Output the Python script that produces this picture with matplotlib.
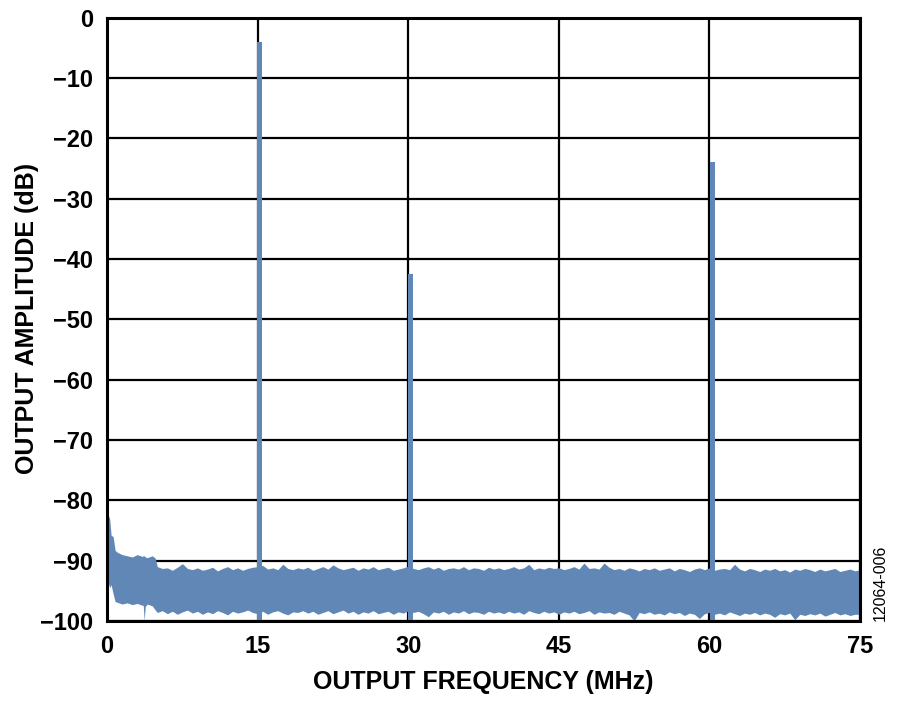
import matplotlib
matplotlib.use("Agg")
import matplotlib.pyplot as plt
import numpy as np

plt.rcParams["font.family"] = ["Liberation Sans", "DejaVu Sans"]

BLUE = "#6087b5"

# noise floor envelope near DC (MHz, dB)
start_freq = [0.05, 0.1, 0.25, 0.4, 0.6, 0.8, 1.0, 1.5, 2.0, 2.5, 3.0, 3.5,
              3.6, 3.7, 3.8, 4.0, 4.5, 4.8]
start_upper = [-82.4, -82.4, -83.0, -85.8, -86.0, -88.3, -88.6, -89.0, -89.2,
               -89.4, -89.0, -89.3, -89.2, -89.2, -89.4, -89.5, -89.2, -89.6]
start_lower = [-92.5, -93.5, -94.5, -94.0, -95.5, -96.8, -96.9, -97.2, -97.0,
               -97.3, -97.1, -97.4, -97.4, -100.0, -97.6, -97.2, -97.5, -98.2]

# noise floor envelope, 5 MHz to 75 MHz in 0.5 MHz steps
floor_upper = [
    -91.0, -91.3, -91.2, -91.6, -91.1, -90.5, -91.3, -91.5, -91.2, -91.6,
    -91.4, -91.1, -91.7, -91.3, -91.0, -91.5, -91.2, -91.6, -91.3, -91.1,
    -91.0, -90.8, -91.4, -91.2, -91.5, -90.6, -91.3, -91.5, -91.2, -91.4,
    -91.1, -91.6, -91.3, -91.0, -91.4, -90.7, -91.2, -91.5, -91.3, -91.1,
    -91.6, -91.2, -91.4, -91.0, -91.5, -91.3, -91.1, -91.6, -91.4, -91.2,
    -90.9, -91.3, -91.5, -91.2, -91.0, -91.4, -91.1, -91.6, -91.3, -91.2,
    -91.4, -91.0, -91.5, -91.2, -91.3, -91.6, -91.1, -91.4, -91.2, -91.5,
    -91.3, -91.0, -91.4, -91.2, -90.6, -91.5, -91.2, -91.4, -91.1, -91.3,
    -91.2, -91.5, -91.3, -91.0, -91.4, -90.4, -91.3, -91.2, -91.4, -90.4,
    -91.1, -91.5, -91.3, -91.6, -91.2, -91.4, -91.7, -91.3, -91.5, -91.2,
    -91.6, -91.4, -91.2, -91.7, -91.3, -91.5, -91.8, -91.4, -91.2, -91.5,
    -91.2, -91.6, -91.4, -91.3, -91.5, -90.6, -91.4, -91.7, -91.3, -91.5,
    -91.8, -91.4, -91.6, -91.3, -91.7, -91.5, -91.9, -91.4, -91.6, -91.3,
    -91.5, -91.8, -91.4, -91.7, -91.5, -91.3, -91.8, -91.6, -91.4, -91.7,
    -91.5,
]
floor_lower = [
    -98.6, -98.3, -98.8, -98.4, -98.9, -98.5, -98.2, -98.7, -98.4, -98.9,
    -98.5, -98.8, -98.3, -98.6, -99.0, -98.4, -98.7, -98.5, -98.2, -98.6,
    -98.8, -98.4, -98.9, -98.5, -98.3, -98.7, -99.0, -98.5, -98.6, -98.3,
    -98.7, -98.4, -98.9, -98.6, -98.3, -98.8, -98.5, -98.2, -98.7, -98.4,
    -98.9, -98.5, -98.7, -98.3, -98.8, -98.6, -98.4, -98.9, -98.5, -98.7,
    -98.3, -98.6, -98.4, -98.8, -99.3, -98.5, -98.7, -98.4, -98.9, -98.5,
    -98.7, -98.3, -98.8, -98.5, -98.6, -98.9, -98.4, -98.7, -98.5, -98.8,
    -98.4, -98.7, -98.5, -98.9, -98.3, -98.6, -98.8, -98.4, -98.7, -98.5,
    -98.9, -98.5, -98.7, -98.4, -98.8, -98.6, -98.3, -98.9, -98.5, -98.7,
    -98.6, -98.9, -98.4, -98.7, -99.0, -100.0, -98.6, -98.8, -98.5, -98.9,
    -98.7, -99.0, -98.5, -98.8, -98.6, -99.1, -98.7, -98.9, -99.6, -98.8,
    -98.6, -98.9, -98.7, -99.0, -98.5, -98.8, -99.1, -98.7, -98.9, -98.6,
    -99.0, -98.7, -98.9, -99.4, -98.8, -99.0, -98.7, -99.8, -98.9, -99.1,
    -98.8, -99.0, -98.7, -99.2, -98.9, -98.6, -99.0, -98.8, -99.1, -98.9,
    -98.9,
]

# tones: fundamental and harmonics
peak_freq = [15.2, 30.25, 60.3]
peak_level = [-4.0, -42.5, -23.9]

x_ticks = [0, 15, 30, 45, 60, 75]
y_ticks = [0, -10, -20, -30, -40, -50, -60, -70, -80, -90, -100]

floor_freq = np.arange(len(floor_upper)) * 0.5 + 5.0
freq = np.concatenate([start_freq, floor_freq])
upper = np.concatenate([start_upper, floor_upper])
lower = np.concatenate([start_lower, floor_lower])

fig = plt.figure(figsize=(9, 7.04), dpi=100)
ax = fig.add_axes([0.119, 0.118, 0.8366, 0.8566])

ax.fill_between(freq, lower, upper, color=BLUE, linewidth=0, zorder=2)
ax.bar(peak_freq, np.array(peak_level) + 100, bottom=-100, width=0.5,
       color=BLUE, linewidth=0, zorder=2)

ax.set_xlim(0, 75)
ax.set_ylim(-100, 0)
ax.set_xticks(x_ticks)
ax.set_yticks(y_ticks)
ax.set_yticklabels([str(v).replace("-", "\u2212") for v in y_ticks])
ax.grid(True, color="black", linewidth=1.6, zorder=1)
ax.set_axisbelow(True)
for s in ax.spines.values():
    s.set_linewidth(2.2)
ax.tick_params(length=0, labelsize=17, pad=10)
for lab in ax.get_xticklabels() + ax.get_yticklabels():
    lab.set_fontweight("bold")

ax.set_xlabel("OUTPUT FREQUENCY (MHz)", fontsize=18, fontweight="bold",
              labelpad=9)
ax.set_ylabel("OUTPUT AMPLITUDE (dB)", fontsize=18, fontweight="bold")
ax.yaxis.set_label_coords(-0.091, 0.502)

ax.text(1.027, 0.0, "12064-006", transform=ax.transAxes, rotation=90,
        ha="center", va="bottom", fontsize=11.5)

fig.savefig("out.png", dpi=100)
